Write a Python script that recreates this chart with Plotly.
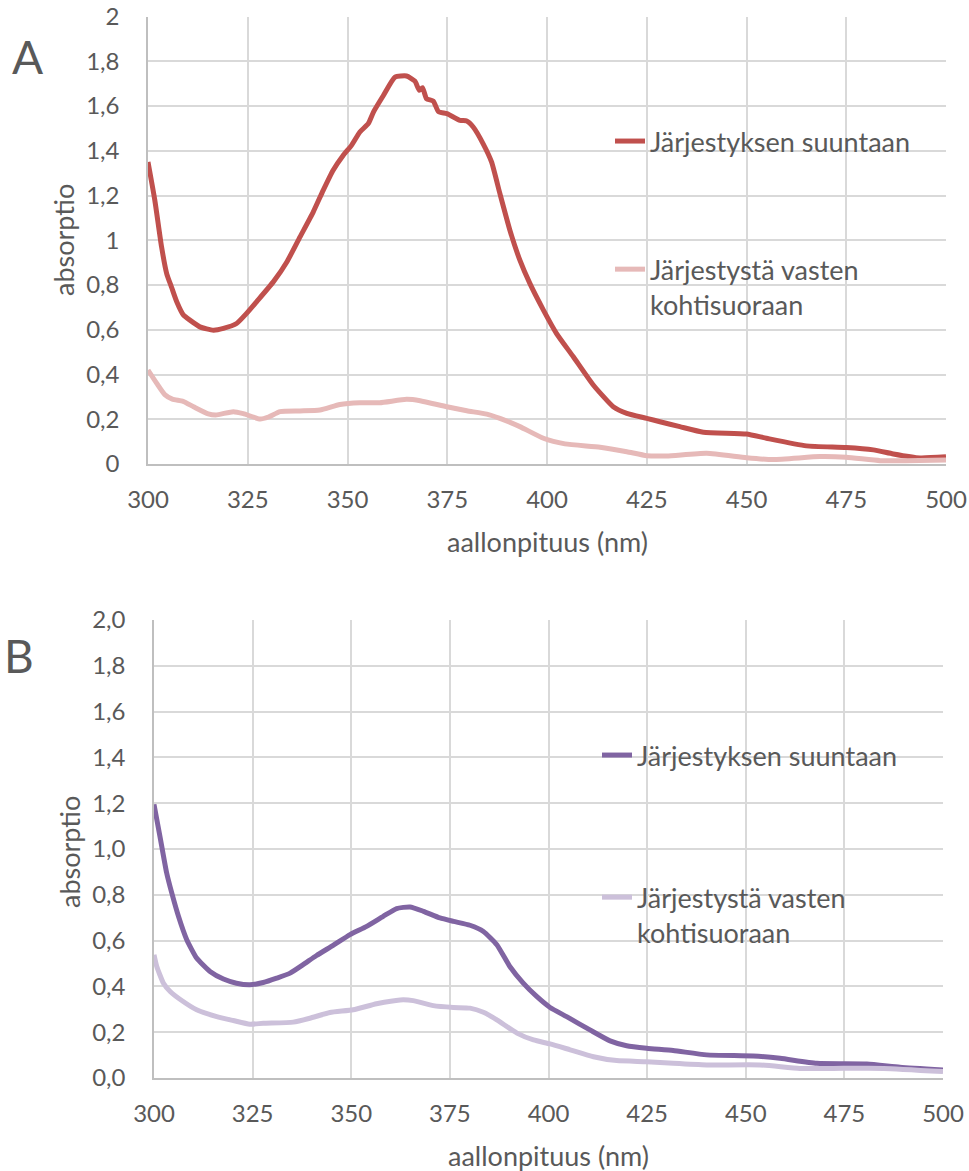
import plotly.graph_objects as go

# ---- Panel A: absorption spectra (red series) ----
wl_a_par = [300, 301.7, 303.4, 304.7, 305.9, 307.2, 308.9, 310.5, 313, 316.4, 318.9, 322.2,
            324.7, 327.2, 331.4, 334.8, 338.1, 341.4, 343.9, 346.4, 348.9, 351, 353.1, 355.2,
            356.5, 359, 361.9, 364.8, 366.9, 368, 368.8, 369.8, 371.5, 372.8, 374.9, 378.2,
            379.9, 381.5, 384, 386.1, 388.2, 390.7, 393.2, 395.7, 399.1, 402.4, 406.6, 411.6,
            416.6, 420, 425, 428.3, 433.3, 439.2, 450, 455, 465, 475, 481.8, 486.8, 493.5, 500]
abs_a_par = [1.35, 1.18, 0.97, 0.85, 0.79, 0.725, 0.665, 0.643, 0.613, 0.598, 0.606, 0.628,
             0.673, 0.725, 0.814, 0.903, 1.015, 1.126, 1.223, 1.313, 1.379, 1.424, 1.484, 1.521,
             1.573, 1.647, 1.729, 1.734, 1.711, 1.67, 1.682, 1.633, 1.622, 1.575, 1.566, 1.536,
             1.533, 1.506, 1.431, 1.35, 1.208, 1.045, 0.911, 0.807, 0.688, 0.583, 0.479, 0.353,
             0.256, 0.226, 0.204, 0.189, 0.167, 0.142, 0.134, 0.115, 0.081, 0.074, 0.063, 0.045,
             0.027, 0.032]

wl_a_perp = [300, 302.2, 304.2, 306.1, 308.8, 311.4, 315.1, 317, 321.4, 323.9, 328.1, 330.2,
             333.1, 338.1, 343.1, 348.1, 353.1, 358.1, 364.8, 368.2, 374.9, 379.9, 384.9, 388.2,
             393.2, 399.1, 404.5, 413.3, 420, 425, 430, 440, 450, 456.7, 468.4, 475, 483.5, 490, 500]
abs_a_perp = [0.42, 0.36, 0.31, 0.29, 0.28, 0.256, 0.224, 0.219, 0.234, 0.225, 0.201, 0.21,
              0.234, 0.237, 0.241, 0.266, 0.274, 0.274, 0.289, 0.283, 0.256, 0.238, 0.223, 0.204,
              0.167, 0.115, 0.09, 0.075, 0.055, 0.037, 0.036, 0.048, 0.028, 0.02, 0.033, 0.03,
              0.015, 0.015, 0.018]

# ---- Panel B: absorption spectra (purple series) ----
wl_b_par = [300, 301.5, 303.2, 304.5, 306.2, 308.3, 310.8, 314.2, 317.6, 320.9, 324.3, 327.7,
            331.1, 334.5, 337.8, 341.2, 345.4, 349.7, 353.9, 358.1, 361.5, 364.9, 368.3, 372.5,
            375.9, 380.1, 383.5, 386.9, 390.2, 393.6, 397, 400.4, 404.6, 410.5, 415.6, 419.8,
            424.9, 431.6, 440.1, 451.9, 458.7, 468, 480.7, 489.1, 500]
abs_b_par = [1.195, 1.056, 0.896, 0.808, 0.706, 0.604, 0.524, 0.465, 0.432, 0.414, 0.407, 0.417,
             0.436, 0.458, 0.495, 0.535, 0.579, 0.626, 0.662, 0.706, 0.74, 0.747, 0.728, 0.699,
             0.684, 0.667, 0.64, 0.582, 0.487, 0.414, 0.356, 0.308, 0.268, 0.21, 0.162, 0.141,
             0.13, 0.12, 0.101, 0.096, 0.086, 0.064, 0.061, 0.047, 0.035]

wl_b_perp = [300, 300.7, 302.4, 304.1, 307.4, 310.8, 315.9, 320.1, 324.3, 327.7, 335.3, 339.5,
             344.6, 350.5, 356.4, 362.4, 365.7, 370.8, 375.9, 380.1, 383.5, 386.9, 392, 396.2,
             400.4, 405.5, 411.4, 417.3, 424.9, 431.6, 440.1, 453.6, 463.7, 472.2, 484.9, 500]
abs_b_perp = [0.538, 0.487, 0.414, 0.378, 0.334, 0.298, 0.268, 0.251, 0.235, 0.239, 0.244, 0.261,
              0.286, 0.298, 0.324, 0.341, 0.338, 0.316, 0.308, 0.305, 0.287, 0.254, 0.196, 0.166,
              0.149, 0.123, 0.093, 0.076, 0.071, 0.064, 0.057, 0.057, 0.042, 0.042, 0.042, 0.028]

name_par = "Järjestyksen suuntaan"
name_perp = "Järjestystä vasten<br>kohtisuoraan"
x_ticks = [300, 325, 350, 375, 400, 425, 450, 475, 500]
y_ticks = [0, 0.2, 0.4, 0.6, 0.8, 1.0, 1.2, 1.4, 1.6, 1.8, 2.0]

FONT = "Lato"
TEXT = "#595959"
GRID = "#D9D9D9"
AXLINE = "#BFBFBF"

W, H = 969, 1171
# plot-area pixel boxes
A_box = dict(l=148, r=946, t=16.5, b=464)
B_box = dict(l=154, r=943, t=620, b=1078)


def xdom(b):
    return [b["l"] / W, b["r"] / W]


def ydom(b):
    return [1 - b["b"] / H, 1 - b["t"] / H]


fig = go.Figure()
line_w = 5
fig.add_trace(go.Scatter(x=wl_a_par, y=abs_a_par, name=name_par, mode="lines",
                         line=dict(color="#C0504D", width=line_w, shape="spline", smoothing=0.5),
                         xaxis="x", yaxis="y", legend="legend", legendgroup="a1"))
fig.add_trace(go.Scatter(x=wl_a_perp, y=abs_a_perp, name=name_perp, mode="lines",
                         line=dict(color="#E6B9B8", width=line_w, shape="spline", smoothing=0.5),
                         xaxis="x", yaxis="y", legend="legend", legendgroup="a2"))
fig.add_trace(go.Scatter(x=wl_b_par, y=abs_b_par, name=name_par, mode="lines",
                         line=dict(color="#8064A2", width=line_w, shape="spline", smoothing=0.5),
                         xaxis="x2", yaxis="y2", legend="legend2", legendgroup="b1"))
fig.add_trace(go.Scatter(x=wl_b_perp, y=abs_b_perp, name=name_perp, mode="lines",
                         line=dict(color="#CCC0DA", width=line_w, shape="spline", smoothing=0.5),
                         xaxis="x2", yaxis="y2", legend="legend2", legendgroup="b2"))

tick_font = dict(family=FONT, size=24, color=TEXT)
common_x = dict(range=[300, 500], tickvals=x_ticks, showgrid=True, gridcolor=GRID, gridwidth=1.5,
                showline=True, linecolor=AXLINE, linewidth=1.5, zeroline=False, ticks="",
                tickfont=tick_font, ticklabelstandoff=13, fixedrange=True, automargin=False)
common_y = dict(range=[0, 2], tickvals=y_ticks, showgrid=True, gridcolor=GRID, gridwidth=1.5,
                showline=True, linecolor=AXLINE, linewidth=1.5, zeroline=False, ticks="",
                tickfont=tick_font, ticklabelstandoff=22, fixedrange=True, automargin=False)

legend_common = dict(font=dict(family=FONT, size=27, color=TEXT), bgcolor="rgba(0,0,0,0)",
                     traceorder="grouped", valign="top", xanchor="left", yanchor="top")

fig.update_layout(
    width=W, height=H,
    margin=dict(l=0, r=0, t=0, b=0, autoexpand=False),
    paper_bgcolor="white", plot_bgcolor="white",
    separators=", ",
    font=dict(family=FONT, color=TEXT),
    xaxis=dict(domain=xdom(A_box), anchor="y", **common_x),
    yaxis=dict(domain=ydom(A_box), anchor="x", tickformat="", **common_y),
    xaxis2=dict(domain=xdom(B_box), anchor="y2", **common_x),
    yaxis2=dict(domain=ydom(B_box), anchor="x2", tickformat=".1f", **common_y),
    legend=dict(x=610 / W, y=1 - 117 / H, tracegroupgap=90, **legend_common),
    legend2=dict(x=597 / W, y=1 - 731 / H, tracegroupgap=104, **legend_common),
    showlegend=True,
)

ann_font = dict(family=FONT, size=27, color=TEXT)
annotations = [
    dict(text="A", x=27 / W, y=1 - 56 / H, font=dict(family=FONT, size=46, color=TEXT)),
    dict(text="B", x=19 / W, y=1 - 655 / H, font=dict(family=FONT, size=46, color=TEXT)),
    dict(text="absorptio", x=64 / W, y=1 - 240 / H, textangle=-90, font=ann_font),
    dict(text="absorptio", x=70 / W, y=1 - 852 / H, textangle=-90, font=ann_font),
    dict(text="aallonpituus (nm)", x=547 / W, y=1 - 542 / H, font=ann_font),
    dict(text="aallonpituus (nm)", x=548 / W, y=1 - 1155 / H, font=ann_font),
]
for a in annotations:
    a.update(xref="paper", yref="paper", showarrow=False, xanchor="center", yanchor="middle")
fig.update_layout(annotations=annotations)

fig.write_html("out.html")
